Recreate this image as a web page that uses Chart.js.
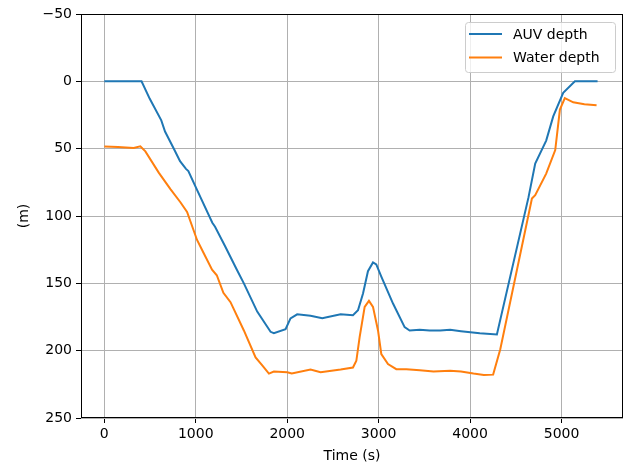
<!DOCTYPE html>
<html>
<head>
<meta charset="utf-8">
<script src="https://cdn.jsdelivr.net/npm/chart.js@4/dist/chart.umd.min.js"></script>
<style>
  html, body { margin: 0; padding: 0; background: #fff; }
  #wrap { width: 627px; height: 468px; }
</style>
</head>
<body>
<div id="wrap"><canvas id="c" width="627" height="468"></canvas></div>
<script>
// ---- data ----
const auvTime = [0, 200, 407, 497, 623, 664, 767, 828, 893, 919, 1010, 1181, 1211, 1325, 1448, 1526, 1672, 1818, 1854, 1982, 2036, 2109, 2255, 2383, 2584, 2719, 2774, 2829, 2883, 2938, 2974, 3029, 3157, 3284, 3339, 3449, 3558, 3673, 3782, 3900, 4106, 4293, 4639, 4712, 4832, 4909, 5018, 5146, 5394];
const auvDepth = [0, 0, 0, 13, 29, 37.3, 51, 59.3, 65, 66.6, 80, 105, 108, 123, 139.7, 150, 171, 186, 187, 184, 176, 173, 174, 176, 173, 173.75, 170, 157.5, 141, 134.5, 136, 145, 165, 182.5, 185, 184.5, 185, 185, 184.5, 185.5, 187, 188, 86, 61, 44, 26, 8.5, 0, 0];
const waterTime = [0, 150, 321, 394, 449, 595, 723, 832, 905, 1014, 1090, 1178, 1230, 1302, 1380, 1526, 1654, 1727, 1800, 1854, 2000, 2050, 2255, 2365, 2584, 2719, 2756, 2792, 2847, 2894, 2938, 2993, 3029, 3102, 3193, 3303, 3450, 3600, 3782, 3900, 4037, 4150, 4252, 4330, 4676, 4712, 4832, 4931, 4982, 5036, 5128, 5250, 5383];
const waterDepth = [48.3, 48.8, 49.5, 48.3, 52, 67.8, 80, 89.8, 97, 117.8, 128, 139.8, 144, 157, 164, 185, 205, 211, 217, 215.5, 216, 217, 214, 216, 214, 212.5, 207.5, 190, 167.5, 163, 167.5, 185, 202.5, 210, 213.75, 213.75, 214.5, 215.5, 215, 215.5, 217, 218, 217.8, 199, 87, 84.5, 68.5, 51, 21, 12.4, 15.6, 17, 17.8];
const xTickValues = [0, 1000, 2000, 3000, 4000, 5000];
const yTickValues = [-50, 0, 50, 100, 150, 200, 250];
const seriesLabels = ['AUV depth', 'Water depth'];
const xTitle = 'Time (s)';
const yTitle = '(m)';

const toPts = (xs, ys) => xs.map((x, i) => ({ x: x, y: ys[i] }));
const FONT = { family: "'DejaVu Sans', sans-serif", size: 14 };

const framePlugin = {
  id: 'frame',
  afterDatasetsDraw(chart) {
    const { ctx, chartArea: a } = chart;
    ctx.save();
    ctx.strokeStyle = '#000';
    ctx.lineWidth = 1;
    ctx.strokeRect(Math.round(a.left) + 0.5, Math.round(a.top) + 0.5,
                   Math.round(a.right - a.left) - 1, Math.round(a.bottom - a.top) - 1);
    ctx.restore();
  }
};

const legendPlugin = {
  id: 'boxLegend',
  afterDraw(chart) {
    const { ctx, chartArea: a } = chart;
    const w = 150, h = 50;
    const x = a.right - 8 - w, y = a.top + 8;
    ctx.save();
    ctx.beginPath();
    if (ctx.roundRect) ctx.roundRect(x + 0.5, y + 0.5, w, h, 3); else ctx.rect(x + 0.5, y + 0.5, w, h);
    ctx.fillStyle = 'rgba(255,255,255,0.8)';
    ctx.fill();
    ctx.strokeStyle = '#cccccc';
    ctx.lineWidth = 1;
    ctx.stroke();
    ctx.font = "14px 'DejaVu Sans', sans-serif";
    ctx.textBaseline = 'middle';
    ctx.fillStyle = '#000';
    chart.data.datasets.forEach((ds, i) => {
      const ly = y + 12 + i * 23.4;
      ctx.beginPath();
      ctx.moveTo(x + 4, ly);
      ctx.lineTo(x + 37, ly);
      ctx.strokeStyle = ds.borderColor;
      ctx.lineWidth = 2;
      ctx.stroke();
      ctx.fillText(ds.label, x + 48, ly + 1);
    });
    ctx.restore();
  }
};

new Chart(document.getElementById('c'), {
  type: 'line',
  data: {
    datasets: [
      { label: seriesLabels[0], data: toPts(auvTime, auvDepth), borderColor: '#1f77b4', borderWidth: 2, pointRadius: 0, fill: false, tension: 0 },
      { label: seriesLabels[1], data: toPts(waterTime, waterDepth), borderColor: '#ff7f0e', borderWidth: 2, pointRadius: 0, fill: false, tension: 0 }
    ]
  },
  options: {
    responsive: false,
    animation: false,
    devicePixelRatio: 1,
    layout: { padding: { left: 0, right: 4, top: 14, bottom: 0 } },
    plugins: { legend: { display: false }, tooltip: { enabled: false } },
    scales: {
      x: {
        type: 'linear',
        min: -255,
        max: 5672,
        afterBuildTicks: (s) => { s.ticks = xTickValues.map(v => ({ value: v })); },
        afterFit: (s) => { s.height = 50; },
        grid: { color: '#b0b0b0', lineWidth: 1, tickColor: '#000', tickLength: 5, drawTicks: true },
        border: { display: false },
        ticks: { font: FONT, color: '#000', padding: 3, maxRotation: 0, callback: (v) => String(v) },
        title: { display: true, text: xTitle, font: FONT, color: '#000', padding: { top: 0, bottom: 3 } }
      },
      y: {
        type: 'linear',
        reverse: true,
        min: -50,
        max: 250,
        afterBuildTicks: (s) => { s.ticks = yTickValues.map(v => ({ value: v })); },
        afterFit: (s) => { s.width = 81; },
        grid: { color: '#b0b0b0', lineWidth: 1, tickColor: '#000', tickLength: 5, drawTicks: true },
        border: { display: false },
        ticks: { font: FONT, color: '#000', padding: 4, callback: (v) => String(v).replace('-', '\u2212') },
        title: { display: true, text: yTitle, font: FONT, color: '#000', padding: { top: 16, bottom: 0 } }
      }
    }
  },
  plugins: [framePlugin, legendPlugin]
});
</script>
</body>
</html>
